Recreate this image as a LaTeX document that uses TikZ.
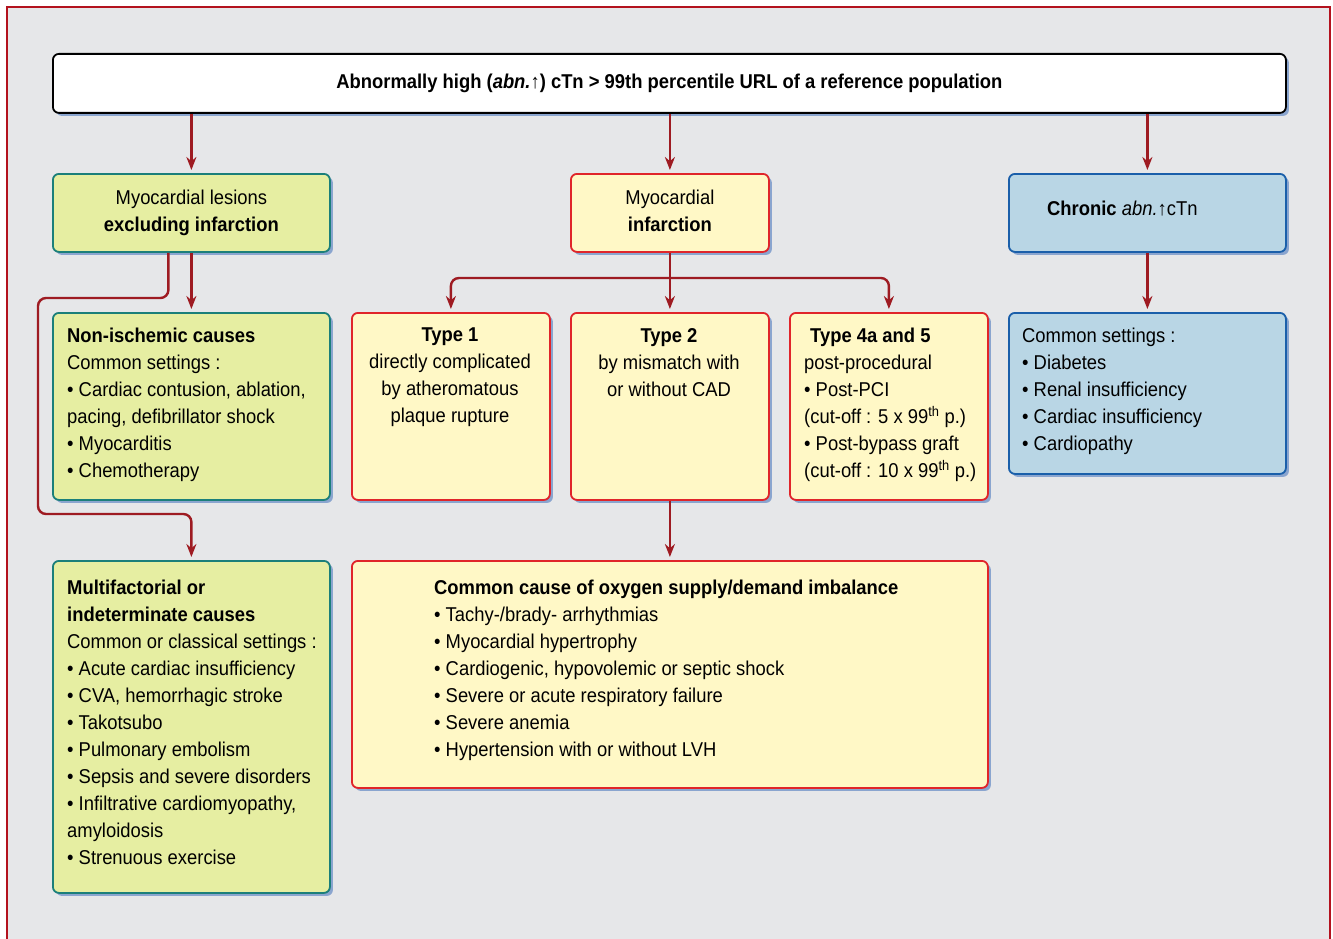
\documentclass[tikz,border=0pt]{standalone}
\usepackage{fontspec}
\setmainfont{Liberation Sans}[FakeStretch=0.92]
\usetikzlibrary{positioning}
\usetikzlibrary{calc}
\usetikzlibrary{arrows.meta}
\usetikzlibrary{shadows}

\definecolor{bggray}{HTML}{E6E7E9}
\definecolor{framered}{HTML}{B3121E}
\definecolor{arrowred}{HTML}{9E1B22}
\definecolor{shadowblue}{HTML}{8AA5CF}
\definecolor{greenfill}{HTML}{E6EEA2}
\definecolor{tealline}{HTML}{1B7F7A}
\definecolor{yellowfill}{HTML}{FFF8C6}
\definecolor{redline}{HTML}{E0252A}
\definecolor{bluefill}{HTML}{B9D6E5}
\definecolor{blueline}{HTML}{1A5FAA}

\tikzset{
  dim/.style 2 args={minimum width=#1pt, minimum height=#2pt},
  box/.style={rounded corners=6pt, line width=1.8pt, inner sep=0pt, anchor=north west,
    drop shadow={shadow xshift=3pt, shadow yshift=-3pt, fill=shadowblue, opacity=1}},
  greenbox/.style={box, draw=tealline, fill=greenfill},
  yellowbox/.style={box, draw=redline, fill=yellowfill},
  bluebox/.style={box, draw=blueline, fill=bluefill},
  txt/.style={inner sep=0pt, align=left, anchor=north west},
  ctxt/.style={inner sep=0pt, align=center, anchor=north},
  link/.style={draw=arrowred, line width=2.4pt, shorten >=3pt, -{Stealth[length=13pt,width=10pt]}},
}

\begin{document}
\begin{tikzpicture}[x=1pt, y=-1pt, font=\fontsize{20}{27}\selectfont]
  \useasboundingbox (0,0) rectangle (1333,939);
  % background and frame
  \fill[bggray] (7,7) rectangle (1330,939);
  \draw[framered, line width=2.6pt] (7,939) -- (7,7) -- (1330,7) -- (1330,939);

  % first row
  \node[box, draw=black, fill=white, dim={1233}{59}] (top) at (52,53)
    {\bfseries Abnormally high (\textit{abn.}↑) cTn > 99th percentile URL of a reference population};
  \node[greenbox, dim={277}{78}, align=center] (lesion) at (52,173)
    {Myocardial lesions\\\textbf{excluding infarction}};
  \node[yellowbox, dim={198}{78}, align=center] (infarct) at (570,173)
    {Myocardial\\\textbf{infarction}\vphantom{g}};
  \node[bluebox, dim={277}{78}] (chronic) at (1008,173) {};
  \node[inner sep=0pt, anchor=west] (chronictxt) at (1047,209)
    {\textbf{Chronic} \textit{abn.}↑cTn};

  % second row
  \node[greenbox, dim={277}{187}] (nonisch) at (52,312) {};
  \node[yellowbox, dim={198}{187}] (type1) at (351,312) {};
  \node[yellowbox, dim={198}{187}] (type2) at (570,312) {};
  \node[yellowbox, dim={198}{187}] (type4) at (789,312) {};
  \node[bluebox, dim={277}{161}] (settings) at (1008,312) {};

  \node[txt] (nonischtxt) at (67,328) {\textbf{Non-ischemic causes}\\Common settings :\\
    • Cardiac contusion, ablation,\\pacing, defibrillator shock\\• Myocarditis\\• Chemotherapy};
  \node[ctxt] (type1txt) at (450,328) {\textbf{Type 1}\\directly complicated\\by atheromatous\\plaque rupture};
  \node[ctxt] (type2txt) at (669,328) {\textbf{Type 2}\\by mismatch with\\or without CAD};
  \node[txt] (type4txt) at (804,328) {\hspace{6pt}\textbf{Type 4a and 5}\\post-procedural\\• Post-PCI\\
    (cut-off : 5 x 99\textsuperscript{th} p.)\\• Post-bypass graft\\(cut-off : 10 x 99\textsuperscript{th} p.)};
  \node[txt] (settingstxt) at (1022,328) {Common settings :\\• Diabetes\\• Renal insufficiency\\
    • Cardiac insufficiency\\• Cardiopathy};

  % third row
  \node[greenbox, dim={277}{332}] (multi) at (52,560) {};
  \node[yellowbox, dim={636}{227}] (cause) at (351,560) {};
  \node[txt] (multitxt) at (67,580) {\textbf{Multifactorial or}\\\textbf{indeterminate causes}\\
    Common or classical settings :\\• Acute cardiac insufficiency\\• CVA, hemorrhagic stroke\\
    • Takotsubo\\• Pulmonary embolism\\• Sepsis and severe disorders\\
    • Infiltrative cardiomyopathy,\\amyloidosis\\• Strenuous exercise};
  \node[txt] (causetxt) at (434,580) {\textbf{Common cause of oxygen supply/demand imbalance}\\
    • Tachy-/brady- arrhythmias\\• Myocardial hypertrophy\\
    • Cardiogenic, hypovolemic or septic shock\\• Severe or acute respiratory failure\\
    • Severe anemia\\• Hypertension with or without LVH};

  % connectors
  \coordinate (split) at (669,278);
  \coordinate (railtop) at (38,298);
  \coordinate (railbot) at (38,514);
  \draw[link] (top.south -| lesion.north) -- (lesion.north);
  \draw[link] (top.south -| infarct.north) -- (infarct.north);
  \draw[link] (top.south -| chronic.north) -- (chronic.north);
  \draw[link] (lesion.south) -- (nonisch.north);
  \draw[link, rounded corners=8pt] ([xshift=-23pt]lesion.south) |- (railtop) -- (railbot) -| (multi.north);
  \draw[link] (infarct.south) -- (type2.north);
  \draw[link, rounded corners=8pt] (split) -| (type1.north);
  \draw[link, rounded corners=8pt] (split) -| (type4.north);
  \draw[link] (type2.south) -- (cause.north);
  \draw[link] (chronic.south) -- (settings.north);
\end{tikzpicture}
\end{document}
